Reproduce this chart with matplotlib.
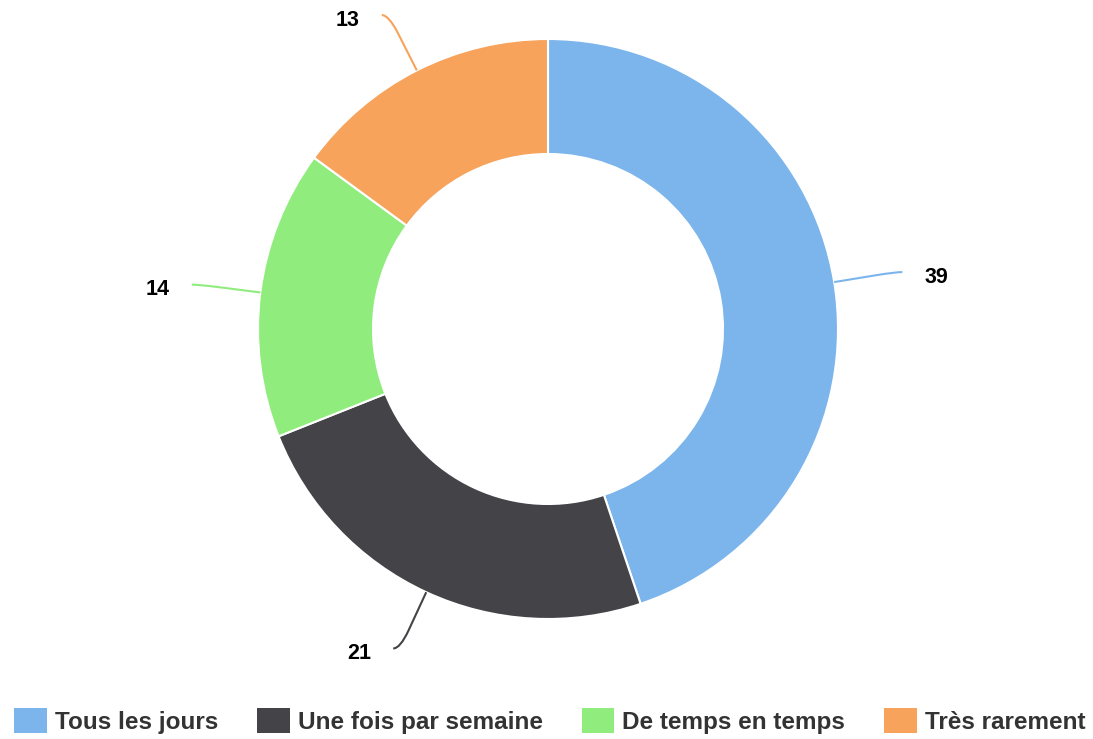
import numpy as np
import matplotlib
matplotlib.use("Agg")
import matplotlib.pyplot as plt
from matplotlib.patches import Patch, PathPatch
from matplotlib.path import Path

plt.rcParams['font.family'] = ['Liberation Sans', 'DejaVu Sans']

# Data
labels = ["Tous les jours", "Une fois par semaine", "De temps en temps", "Très rarement"]
values = [39, 21, 14, 13]
colors = ["#7cb5ec", "#434348", "#90ed7d", "#f7a35c"]

W, H = 1093, 739
fig = plt.figure(figsize=(W / 100, H / 100), dpi=100)
ax = fig.add_axes([0, 0, 1, 1])

cx, cy = 548, H - 329
r_out, ring = 290, 115

wedges, _ = ax.pie(values, colors=colors, startangle=90, counterclock=False,
                   center=(cx, cy), radius=r_out,
                   wedgeprops=dict(width=ring, edgecolor='white', linewidth=1.5))

ax.set_xlim(0, W)
ax.set_ylim(0, H)
ax.set_aspect('equal')
ax.axis('off')


def polar(rad, ang):
    a = np.deg2rad(ang)
    return np.array([cx + rad * np.cos(a), cy + rad * np.sin(a)])


# Data labels with curved connectors
for w, v, c in zip(wedges, values, colors):
    mid = (w.theta1 + w.theta2) / 2
    side = 1 if np.cos(np.deg2rad(mid)) >= 0 else -1
    A = polar(r_out, mid)
    B = polar(r_out + 42, mid)
    C = polar(r_out + 62, mid)
    E = C + np.array([side * 7, 0])
    path = Path([A, B, C, E], [Path.MOVETO, Path.LINETO, Path.CURVE3, Path.CURVE3])
    ax.add_patch(PathPatch(path, fill=False, edgecolor=c, linewidth=1.5))
    ax.text(E[0] + side * 22, E[1] - 5, str(v), ha='left' if side > 0 else 'right',
            va='center', fontsize=15.5, fontweight='bold', color='black')

# Legend
handles = [Patch(facecolor=c, edgecolor='none') for c in colors]
leg = fig.legend(handles, labels, ncol=4, loc='center',
                 bbox_to_anchor=(0.503, 1 - 721 / H), frameon=False,
                 prop=dict(size=17.5, weight='bold'),
                 handlelength=1.35, handleheight=1.2, handletextpad=0.33,
                 columnspacing=1.6, borderpad=0)
for t in leg.get_texts():
    t.set_color('#333333')

fig.savefig("out.png", dpi=100)
